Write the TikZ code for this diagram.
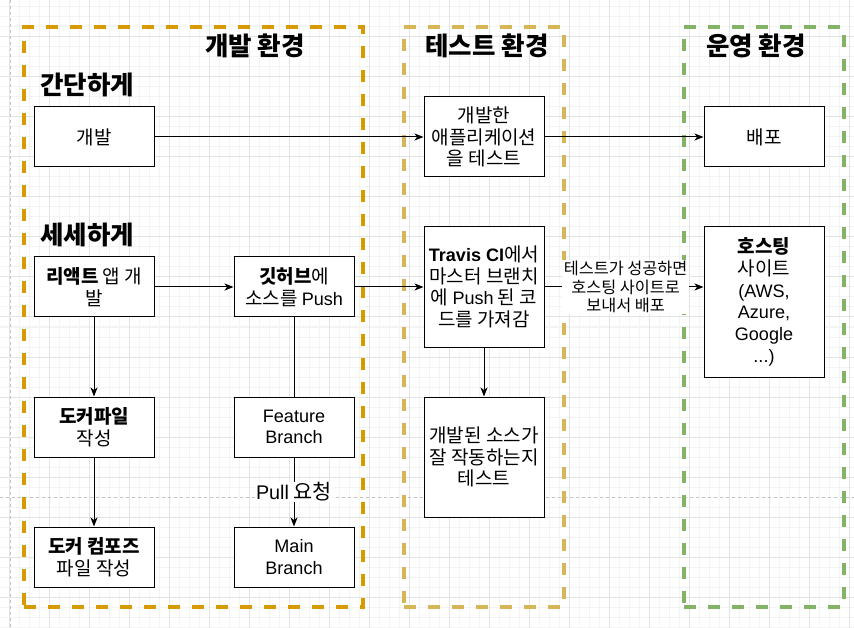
\documentclass[tikz,border=0pt]{standalone}
\usepackage{fontspec}
\setmainfont{Noto Sans CJK KR}
\newfontfamily\lat[Scale=0.95]{Liberation Sans}
\usetikzlibrary{arrows.meta}
\definecolor{devc}{HTML}{D79B00}
\definecolor{testc}{HTML}{D6B656}
\definecolor{opsc}{HTML}{82B366}
\definecolor{gridmajor}{HTML}{E3E3E3}
\definecolor{gridminor}{HTML}{F4F4F4}
\definecolor{pageline}{HTML}{C4C4C4}
\newcommand\boxfont{\fontsize{19}{21.7}\selectfont}
\newcommand\lblfont{\fontsize{16.3}{18.5}\selectfont}
\newcommand\pullfont{\fontsize{20.8}{22}\selectfont}
\newcommand\ttlfont{\fontsize{25.5}{28}\selectfont\bfseries}
\begin{document}
\begin{tikzpicture}[x=1pt,y=-1pt,
  minorline/.style={draw=gridminor,line width=1pt},
  majorline/.style={draw=gridmajor,line width=1pt},
  pagebreak/.style={draw=pageline,line width=1pt,dash pattern=on 3pt off 3pt},
  container/.style={draw=#1,line width=3.75pt,dash pattern=on 12pt off 12pt,inner sep=0pt},
  stepbox/.style={draw=black,line width=1pt,fill=white,minimum width=120pt,minimum height=60pt,inner sep=0pt,align=center,font=\boxfont},
  title/.style={inner sep=0pt,font=\ttlfont},
  conn/.style={draw=black,line width=1pt},
  arr/.style={conn,-{Stealth[length=9pt,width=7pt,inset=2.5pt]}},
  elabel/.style={fill=white,inner sep=1.5pt,align=center}
]
\useasboundingbox (0,0) rectangle (854,628);
\fill[white] (0,0) rectangle (854,628);
% grid
\foreach \i in {0,...,84} \draw[minorline] ({9.5+10*\i},0) -- ++(0,628);
\foreach \j in {0,...,62} \draw[minorline] (0,{7+10*\j}) -- ++(854,0);
\foreach \i in {0,...,21} \draw[majorline] ({9.5+40*\i},0) -- ++(0,628);
\foreach \j in {0,...,15} \draw[majorline] (0,{-3+40*\j}) -- ++(854,0);
\draw[pagebreak] (10,0) -- (10,628);
\draw[pagebreak] (0,497) -- (854,497);

% containers
\node[container=devc,minimum width=339pt,minimum height=580pt] (devenv) at (193.5,317) {};
\node[container=testc,minimum width=160pt,minimum height=580pt] (testenv) at (484,317) {};
\node[container=opsc,minimum width=160pt,minimum height=580pt] (opsenv) at (764,317) {};

% titles
\node[title] (tdev) at (255,46) {개발 환경};
\node[title] (ttest) at (487,46) {테스트 환경};
\node[title] (tops) at (756,46) {운영 환경};
\node[title,anchor=west] (tsimple) at (40,85) {간단하게};
\node[title,anchor=west] (tdetail) at (40,235) {세세하게};

% boxes
\node[stepbox] (dev) at (94,137) {개발};
\node[stepbox,minimum height=80pt] (apptest) at (484,137) {개발한\\애플리케이션\\을 테스트};
\node[stepbox] (deploy) at (764,137) {배포};
\node[stepbox] (react) at (94,287) {\textbf{리액트} 앱 개\\발};
\node[stepbox] (github) at (294,287) {\textbf{깃허브}에\\소스를 {\lat Push}};
\node[stepbox,minimum height=120pt] (travis) at (484,287) {\textbf{\lat Travis CI}에서\\마스터 브랜치\\에 {\lat Push} 된 코\\드를 가져감};
\node[stepbox,minimum height=150pt] (hosting) at (764,302) {\textbf{호스팅}\\사이트\\{\lat (AWS,}\\{\lat Azure,}\\{\lat Google}\\{\lat ...)}};
\node[stepbox] (dockerfile) at (94,427) {\textbf{도커파일}\\작성};
\node[stepbox] (feature) at (294,427) {{\lat Feature}\\{\lat Branch}};
\node[stepbox,minimum height=120pt] (srctest) at (484,457) {개발된 소스가\\잘 작동하는지\\테스트};
\node[stepbox] (compose) at (94,557) {\textbf{도커 컴포즈}\\파일 작성};
\node[stepbox] (main) at (294,557) {{\lat Main}\\{\lat Branch}};

% connectors
\draw[arr] (dev.east) -- (apptest.west);
\draw[arr] (apptest.east) -- (deploy.west);
\draw[arr] (react.east) -- (github.west);
\draw[arr] (github.east) -- (travis.west);
\draw[arr] (travis.east) -- (travis.east -| hosting.west)
  node[elabel,font=\lblfont,pos=0.51] (lbldeploy) {테스트가 성공하면\\호스팅 사이트로\\보내서 배포};
\draw[conn] (github.south) -- (feature.north);
\draw[arr] (react.south) -- (dockerfile.north);
\draw[arr] (dockerfile.south) -- (compose.north);
\draw[arr] (travis.south) -- (srctest.north);
\draw[arr] (feature.south) -- (main.north)
  node[elabel,font=\pullfont,midway,inner sep=1pt] (lblpull) {{\lat Pull} 요청};
\end{tikzpicture}
\end{document}
